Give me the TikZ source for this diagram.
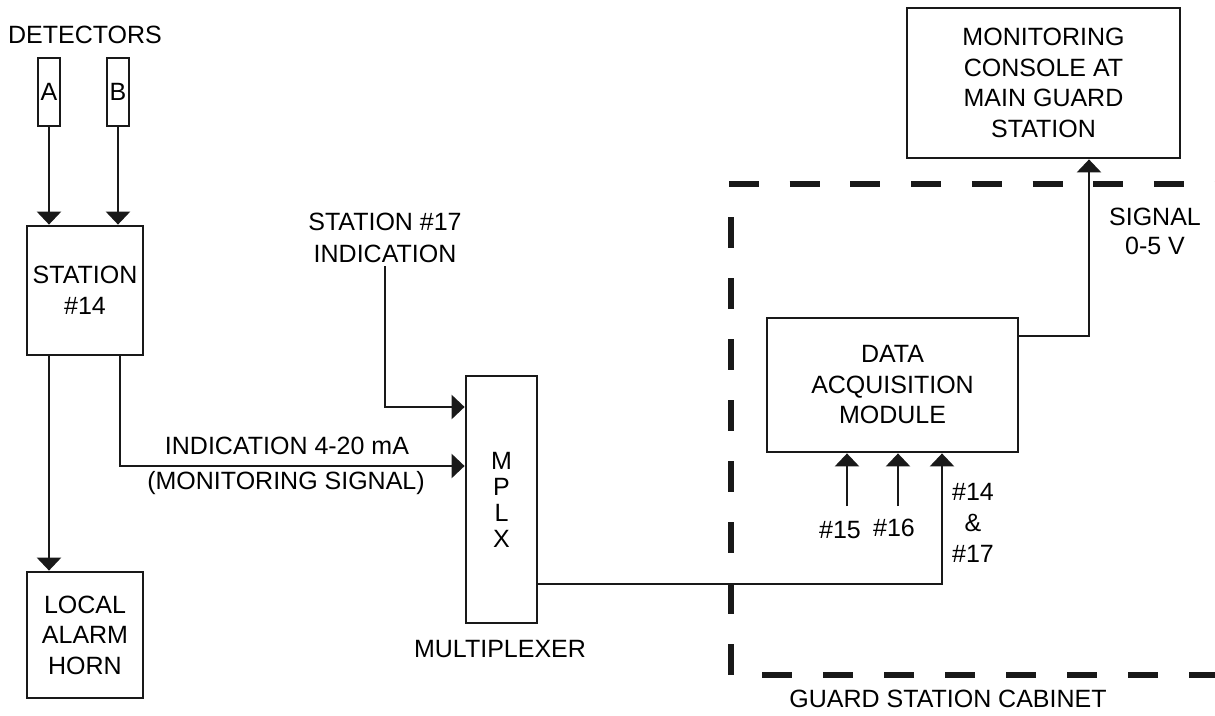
\documentclass[tikz,border=0pt]{standalone}
\usepackage{fontspec}
\setmainfont{Liberation Sans}
\usetikzlibrary{arrows.meta}
\begin{document}
\begin{tikzpicture}[x=1pt,y=-1pt,
  every node/.style={font=\fontsize{25}{30.5}\selectfont, text=black},
  box/.style={draw=black!90, line width=2.8pt, align=center, inner sep=0pt},
  lbl/.style={align=center},
  conn/.style={draw=black!90, line width=2.5pt},
  arr/.style={conn, -{Triangle[width=24pt,length=13pt]}},
  cab/.style={draw=black!90, line width=6pt, dash pattern=on 30pt off 30.7pt}]
\useasboundingbox (0,0) rectangle (1215,715);

% detectors
\node[lbl, anchor=base] (dettitle) at (85,43) {DETECTORS};
\node[box, line width=2.5pt, minimum width=22pt, minimum height=68pt] (detA) at (49,92) {A};
\node[box, line width=2.5pt, minimum width=22pt, minimum height=68pt] (detB) at (118,92) {B};

% station 14 and horn
\node[box, minimum width=116pt, minimum height=129pt] (st14) at (85,290.5) {STATION\\\#14};
\node[box, minimum width=116pt, minimum height=126pt] (horn) at (85,635) {LOCAL\\ALARM\\HORN};

% multiplexer
\node[box, minimum width=71pt, minimum height=247pt, font=\fontsize{25}{26}\selectfont] (mplx) at (501.5,499.5) {M\\P\\L\\X};
\node[lbl, anchor=base] (mplxlbl) at (500,657) {MULTIPLEXER};
\node[lbl, font=\fontsize{25}{32}\selectfont] (st17) at (385,237.7) {STATION \#17\\INDICATION};
\node[lbl, anchor=base] (ind) at (287,454) {INDICATION 4-20 mA};
\node[lbl, anchor=base] (mon) at (286,489) {(MONITORING SIGNAL)};

% data acquisition and console
\node[box, minimum width=251pt, minimum height=134pt] (daq) at (892.5,385) {DATA\\ACQUISITION\\MODULE};
\node[box, minimum width=273pt, minimum height=150pt] (console) at (1043.5,83) {MONITORING\\CONSOLE AT\\MAIN GUARD\\STATION};
\node[lbl, font=\fontsize{25}{29}\selectfont] (sig) at (1155,231.7) {SIGNAL\\0-5 V};
\node[lbl, anchor=base] (l15) at (840,538) {\#15};
\node[lbl, anchor=base] (l16) at (894,536) {\#16};
\node[lbl, font=\fontsize{25}{31}\selectfont] (l1417) at (973,523.2) {\#14\\\&\\\#17};
\node[lbl, anchor=base] (cablbl) at (948,707) {GUARD STATION CABINET};

% connectors
\draw[arr] (detA) -- (detA |- st14.north);
\draw[arr] (detB) -- (detB |- st14.north);
\draw[arr] (st14.south -| detA) -- (horn.north -| detA);
\draw[arr] ([xshift=35pt]st14.south) |- ([yshift=33.5pt]mplx.west);
\draw[arr] (st17.south) |- ([yshift=92.5pt]mplx.west);
\draw[arr] ([yshift=-84.5pt]mplx.east) -| ([xshift=49.5pt]daq.south);
\coordinate (c15) at (847,506);
\coordinate (c16) at (898,506);
\draw[arr] (c15) -- (c15 |- daq.south);
\draw[arr] (c16) -- (c16 |- daq.south);
\draw[arr] ([yshift=49pt]daq.east) -| ([xshift=45.5pt]console.south);

% guard station cabinet outline
\draw[cab] (729,184) -- (1215,184);
\draw[cab, dash pattern=on 31pt off 30pt] (731,217) -- (731,677);
\draw[cab, dash pattern=on 30pt off 31pt] (762,675) -- (1215,675);
\end{tikzpicture}
\end{document}
